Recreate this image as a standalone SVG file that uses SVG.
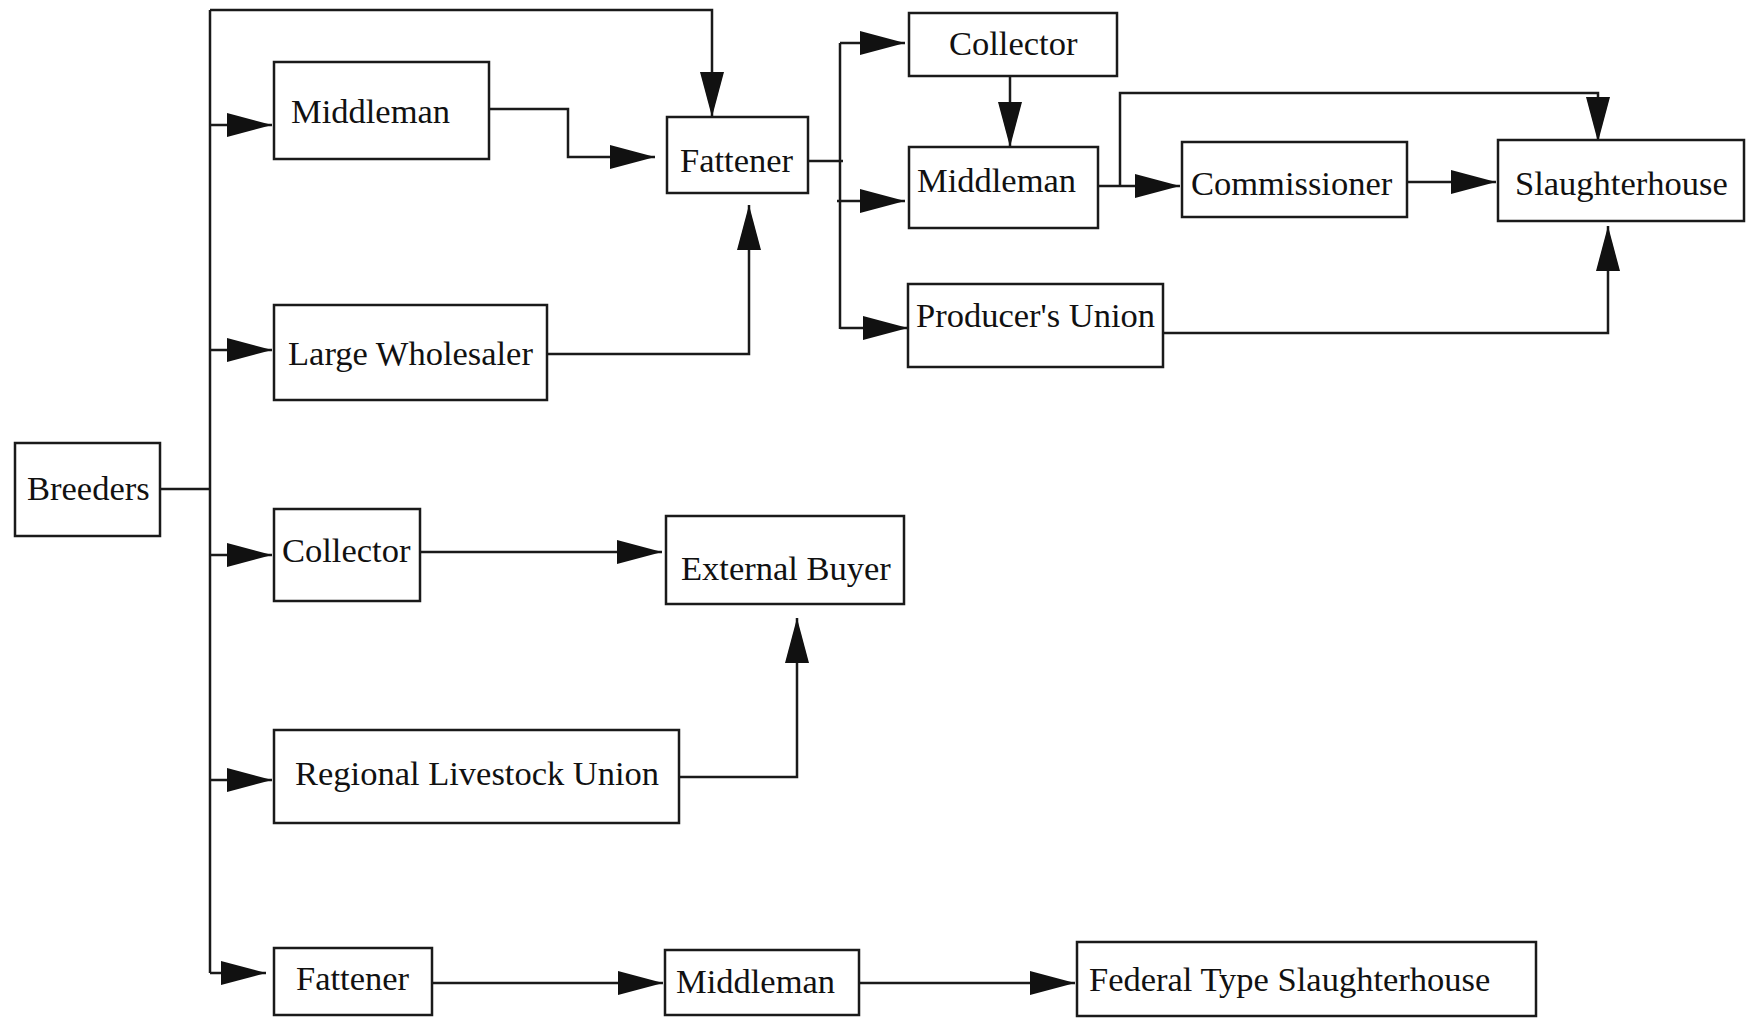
<svg xmlns="http://www.w3.org/2000/svg" width="1747" height="1018" viewBox="0 0 1747 1018">
<style>
.box{fill:#fff;stroke:#1a1a1a;stroke-width:2.5}
.lbl{font-family:"Liberation Serif","Times New Roman",serif;font-size:34.5px;fill:#111}
.ln{fill:none;stroke:#1a1a1a;stroke-width:2.5}
.arr{marker-end:url(#ah)}
</style>
<defs>
<marker id="ah" markerUnits="userSpaceOnUse" markerWidth="46" markerHeight="26" refX="45" refY="12" orient="auto">
<path d="M0,0 L45,12 L0,24 Z" fill="#111"/>
</marker>
</defs>
<rect width="1747" height="1018" fill="#fff"/>
<g id="connectors">
<path class="ln" d="M160,489 H210"/>
<path class="ln" d="M210,10 V973"/>
<path class="ln arr" d="M210,10 H712 V117"/>
<path class="ln arr" d="M210,125 H272"/>
<path class="ln arr" d="M210,350 H272"/>
<path class="ln arr" d="M210,555 H272"/>
<path class="ln arr" d="M210,780 H272"/>
<path class="ln arr" d="M210,973 H266"/>
<path class="ln arr" d="M489,109 H568 V157 H655"/>
<path class="ln arr" d="M547,354 H749 V205"/>
<path class="ln" d="M808,161 H843"/>
<path class="ln" d="M840,43 V329"/>
<path class="ln arr" d="M840,43 H905"/>
<path class="ln arr" d="M837,201 H905"/>
<path class="ln arr" d="M840,328 H908"/>
<path class="ln arr" d="M1010,76 V147"/>
<path class="ln arr" d="M1098,186 H1180"/>
<path class="ln arr" d="M1120,186 V93 H1598 V142"/>
<path class="ln arr" d="M1407,182 H1496"/>
<path class="ln arr" d="M1163,333 H1608 V226"/>
<path class="ln arr" d="M420,552 H662"/>
<path class="ln arr" d="M679,777 H797 V618"/>
<path class="ln arr" d="M432,983 H663"/>
<path class="ln arr" d="M859,983 H1075"/>
</g>
<g id="breeders"><rect class="box" x="15" y="443" width="145" height="93"/><text class="lbl" x="27" y="500">Breeders</text></g>
<g id="middleman1"><rect class="box" x="274" y="62" width="215" height="97"/><text class="lbl" x="291" y="123">Middleman</text></g>
<g id="large-wholesaler"><rect class="box" x="274" y="305" width="273" height="95"/><text class="lbl" x="288" y="365">Large Wholesaler</text></g>
<g id="collector2"><rect class="box" x="274" y="509" width="146" height="92"/><text class="lbl" x="282" y="562">Collector</text></g>
<g id="regional-livestock-union"><rect class="box" x="274" y="730" width="405" height="93"/><text class="lbl" x="295" y="785">Regional Livestock Union</text></g>
<g id="fattener3"><rect class="box" x="274" y="948" width="158" height="67"/><text class="lbl" x="296" y="990">Fattener</text></g>
<g id="fattener1"><rect class="box" x="667" y="117" width="141" height="76"/><text class="lbl" x="680" y="172">Fattener</text></g>
<g id="external-buyer"><rect class="box" x="666" y="516" width="238" height="88"/><text class="lbl" x="681" y="580">External Buyer</text></g>
<g id="middleman3"><rect class="box" x="665" y="950" width="194" height="65"/><text class="lbl" x="676" y="993">Middleman</text></g>
<g id="collector1"><rect class="box" x="909" y="13" width="208" height="63"/><text class="lbl" x="949" y="55">Collector</text></g>
<g id="middleman2"><rect class="box" x="909" y="147" width="189" height="81"/><text class="lbl" x="917" y="192">Middleman</text></g>
<g id="producers-union"><rect class="box" x="908" y="284" width="255" height="83"/><text class="lbl" x="916" y="327">Producer's Union</text></g>
<g id="commissioner"><rect class="box" x="1182" y="142" width="225" height="75"/><text class="lbl" x="1191" y="195">Commissioner</text></g>
<g id="slaughterhouse"><rect class="box" x="1498" y="140" width="246" height="81"/><text class="lbl" x="1515" y="195">Slaughterhouse</text></g>
<g id="federal-slaughterhouse"><rect class="box" x="1077" y="942" width="459" height="74"/><text class="lbl" x="1089" y="991">Federal Type Slaughterhouse</text></g>
</svg>
